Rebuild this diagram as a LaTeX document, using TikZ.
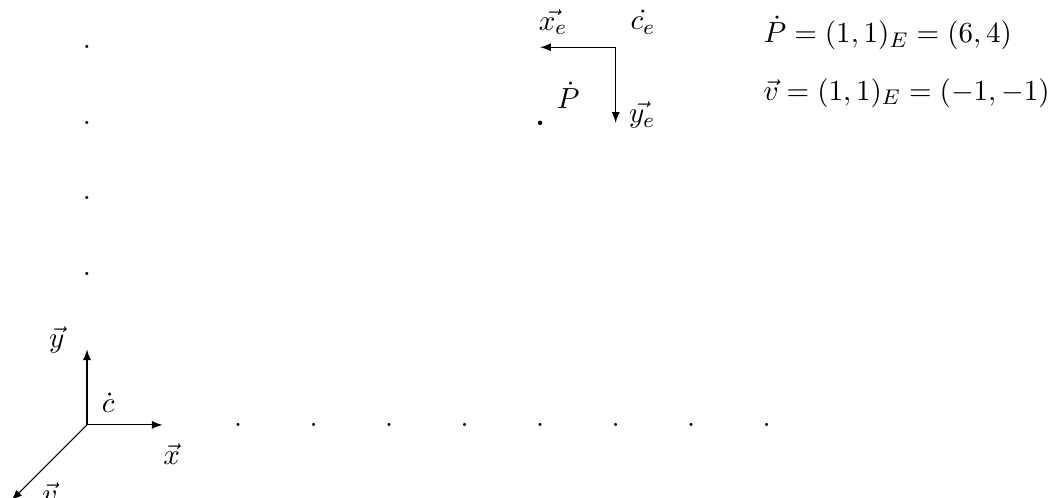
\documentclass[tikz,border=0pt,11pt]{standalone}
\usetikzlibrary{arrows}
\begin{document}
\begin{tikzpicture}[>=latex, axis/.style={->}, lbl/.style={inner sep=0pt}]
\useasboundingbox (-1.152,-0.967) rectangle (12.79,5.626);
% origin frame
\coordinate (c) at (0,0);
\coordinate (xe) at (1,0);
\coordinate (ye) at (0,1);
\coordinate (ve) at (-1,-1);
\draw[axis] (c) -- (xe);
\draw[axis] (c) -- (ye);
\draw[axis] (c) -- (ve);
\node[lbl] (lc) at (0.28,0.29) {$\dot{c}$};
\node[lbl] (lx) at (1.12,-0.38) {$\vec{x}$};
\node[lbl] (ly) at (-0.4,1.13) {$\vec{y}$};
\node[lbl] (lv) at (-0.49,-0.9) {$\vec{v}$};
% dots
\foreach \i in {2,...,9} \node[lbl] (dx\i) at (\i,0) {.};
\foreach \j in {2,...,5} \node[lbl] (dy\j) at (0,\j) {.};
% second frame
\coordinate (ce) at (7,5);
\coordinate (xee) at (6,5);
\coordinate (yee) at (7,4);
\draw[axis] (ce) -- (xee);
\draw[axis] (ce) -- (yee);
\node[lbl] (lce) at (7.36,5.33) {$\dot{c_e}$};
\node[lbl] (lxe) at (6.17,5.33) {$\vec{x_e}$};
\node[lbl] (lye) at (7.35,4.1) {$\vec{y_e}$};
\fill (6,4) circle (0.03);
\node[lbl] (lP) at (6.37,4.36) {$\dot{P}$};
\node[lbl,anchor=base west] (t1) at (8.95,5.06) {$\dot{P}=(1,1)_E=(6,4)$};
\node[lbl,anchor=base west] (t2) at (8.95,4.30) {$\vec{v}=(1,1)_E=(-1,-1)$};
\end{tikzpicture}
\end{document}
